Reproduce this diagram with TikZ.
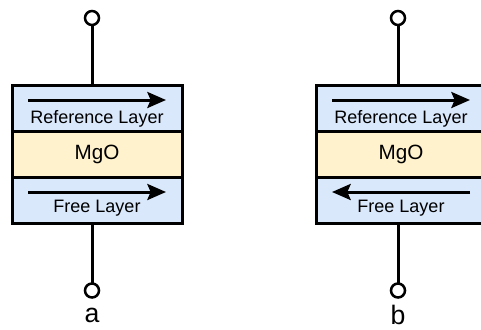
\documentclass[tikz,border=0pt]{standalone}
\usepackage{fontspec}
\setmainfont{Liberation Sans}
\usetikzlibrary{positioning, arrows.meta}
\definecolor{layerblue}{HTML}{DAE8FC}
\definecolor{oxideyellow}{HTML}{FFF2CC}

\begin{document}
\begin{tikzpicture}[x=0.75pt, y=-0.75pt,
  layer/.style = {draw, line width=2.25pt, minimum width=127.5pt, minimum height=34.5pt, inner sep=0pt, outer sep=0pt},
  ferro/.style = {layer, fill=layerblue},
  oxide/.style = {layer, fill=oxideyellow, font=\fontsize{15.5}{18}\selectfont},
  term/.style  = {circle, draw, line width=1.9pt, minimum size=10.5pt, inner sep=0pt, outer sep=0pt, fill=white},
  lbl/.style   = {font=\fontsize{13.5}{16}\selectfont, inner sep=0pt},
  tag/.style   = {font=\fontsize{20}{24}\selectfont, inner sep=0pt},
  mag/.style   = {line width=2.25pt, -{Stealth[length=14pt, width=12pt, inset=2.5pt]}},
  wire/.style  = {line width=2.25pt}]

\useasboundingbox (0,0) rectangle (481,329);

% stack a, both layers pointing the same way
\node[ferro] (ra) at (97,108) {};
\node[oxide, below=0pt of ra] (oa) {MgO};
\node[ferro, below=0pt of oa] (fa) {};
\node[term] (ta) at (92,18) {};
\node[term] (ba) at (92,290.5) {};
\node[tag] (la) at (92,315) {a};

% stack b, free layer reversed
\node[ferro] (rb) at (401,108) {};
\node[oxide, below=0pt of rb] (ob) {MgO};
\node[ferro, below=0pt of ob] (fb) {};
\node[term] (tb) at (398,18) {};
\node[term] (bb) at (398,290.5) {};
\node[tag] (lb) at (398,315) {b};

% layer names
\foreach \p in {a,b} {
  \node[lbl, anchor=base] (rl\p) at ([yshift=6pt]r\p.south) {Reference Layer};
  \node[lbl, anchor=base] (fl\p) at ([yshift=8.25pt]f\p.south) {Free Layer};
}

% wires to the terminals
\foreach \p in {a,b} {
  \draw[wire] (t\p) -- (t\p |- r\p.north);
  \draw[wire] (b\p) -- (b\p |- f\p.south);
}

% magnetisation
\foreach \p in {a,b}
  \draw[mag] ([xshift=12pt, yshift=-11.25pt]r\p.north west) -- ([xshift=-12pt, yshift=-11.25pt]r\p.north east);
\draw[mag] ([xshift=12pt, yshift=-11.25pt]fa.north west) -- ([xshift=-12pt, yshift=-11.25pt]fa.north east);
\draw[mag] ([xshift=-12pt, yshift=-11.25pt]fb.north east) -- ([xshift=12pt, yshift=-11.25pt]fb.north west);

\end{tikzpicture}
\end{document}
